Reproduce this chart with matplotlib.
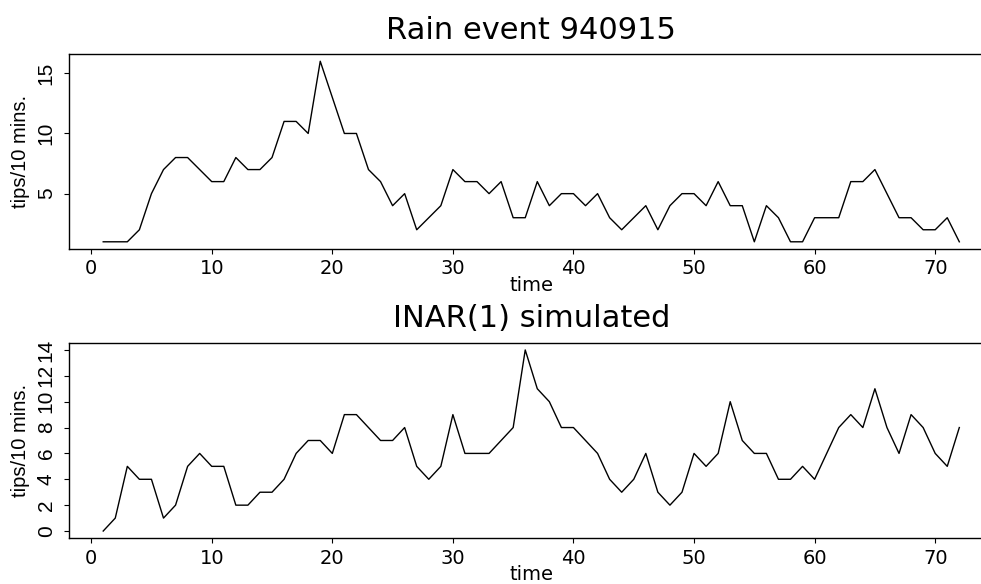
import matplotlib
matplotlib.use("Agg")
import matplotlib.pyplot as plt
import numpy as np

# time index (10 minute intervals)
time = np.arange(1, 73)

# observed tips per 10 minutes, rain event 940915
rain = [1, 1, 1, 2, 5, 7, 8, 8, 7, 6, 6, 8, 7, 7, 8, 11, 11, 10, 16, 13,
        10, 10, 7, 6, 4, 5, 2, 3, 4, 7, 6, 6, 5, 6, 3, 3, 6, 4, 5, 5,
        4, 5, 3, 2, 3, 4, 2, 4, 5, 5, 4, 6, 4, 4, 1, 4, 3, 1, 1, 3,
        3, 3, 6, 6, 7, 5, 3, 3, 2, 2, 3, 1]

# INAR(1) simulated series
inar = [0, 1, 5, 4, 4, 1, 2, 5, 6, 5, 5, 2, 2, 3, 3, 4, 6, 7, 7, 6,
        9, 9, 8, 7, 7, 8, 5, 4, 5, 9, 6, 6, 6, 7, 8, 14, 11, 10, 8, 8,
        7, 6, 4, 3, 4, 6, 3, 2, 3, 6, 5, 6, 10, 7, 6, 6, 4, 4, 5, 4,
        6, 8, 9, 8, 11, 8, 6, 9, 8, 6, 5, 8]

titles = ["Rain event 940915", "INAR(1) simulated"]
yticks = [[5, 10, 15], [0, 2, 4, 6, 8, 10, 12, 14]]
xticks = [0, 10, 20, 30, 40, 50, 60, 70]

narrow = ["Liberation Sans", "DejaVu Sans"]
wide = ["DejaVu Sans"]

fig = plt.figure(figsize=(9.81, 5.84), dpi=100)
ax1 = fig.add_axes([0.0703, 0.5736, 0.9425, 0.3339])
ax2 = fig.add_axes([0.0703, 0.0783, 0.9425, 0.3349])

for ax, y, title, yt in zip([ax1, ax2], [rain, inar], titles, yticks):
    ax.plot(time, y, color="black", lw=1.0)
    # R style 4% range extension
    lo, hi = min(y), max(y)
    ax.set_xlim(1 - 0.04 * 71, 72 + 0.04 * 71)
    ax.set_ylim(lo - 0.04 * (hi - lo), hi + 0.04 * (hi - lo))
    ax.spines["right"].set_visible(False)
    for s in ["top", "left", "bottom"]:
        ax.spines[s].set_linewidth(1.0)
    ax.set_xticks(xticks)
    ax.set_yticks(yt)
    ax.tick_params(direction="out", length=3.5, width=0.8, color="black")
    ax.tick_params(axis="x", pad=4)
    ax.tick_params(axis="y", pad=6)
    for lab in ax.get_xticklabels():
        lab.set_family(wide)
        lab.set_fontsize(14)
    for lab in ax.get_yticklabels():
        lab.set_family(narrow)
        lab.set_fontsize(15)
        lab.set_rotation(90)
        lab.set_va("center")
    ax.set_xlabel("time", family=wide, fontsize=14, labelpad=-2)
    ax.set_ylabel("tips/10 mins.", family=narrow, fontsize=14.5, labelpad=5)
    ax.set_title(title, family=wide, fontsize=22, pad=11)

fig.savefig("out.png", dpi=100)
